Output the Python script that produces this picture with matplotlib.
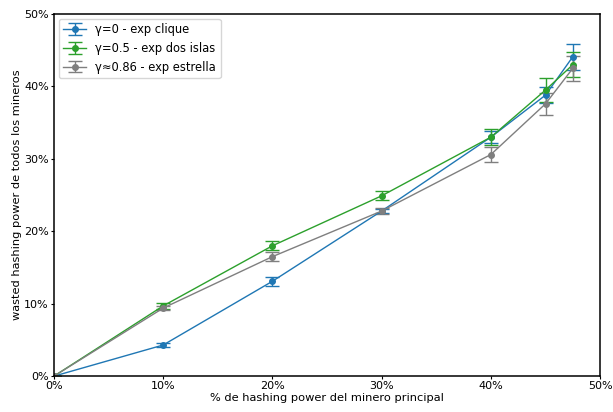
import matplotlib
matplotlib.use("Agg")
import matplotlib.pyplot as plt
from matplotlib.ticker import PercentFormatter

# fraccion de hashing power del minero principal
x = [0.0, 0.1, 0.2, 0.3, 0.4, 0.45, 0.475]

# gamma = 0 (clique)
clique = [0.0, 0.043, 0.131, 0.228, 0.330, 0.388, 0.441]
clique_err = [0.0, 0.003, 0.006, 0.003, 0.008, 0.011, 0.018]

# gamma = 0.5 (dos islas)
islas = [0.0, 0.097, 0.180, 0.249, 0.330, 0.395, 0.430]
islas_err = [0.0, 0.004, 0.006, 0.006, 0.011, 0.017, 0.017]

# gamma ~ 0.86 (estrella)
estrella = [0.0, 0.094, 0.165, 0.228, 0.306, 0.376, 0.425]
estrella_err = [0.0, 0.003, 0.006, 0.004, 0.010, 0.015, 0.017]

fig = plt.figure(figsize=(6.13, 4.12), dpi=100)
ax = fig.add_axes([0.088, 0.087, 0.891, 0.879])

ax.errorbar(x, clique, yerr=clique_err, color='tab:blue', marker='o', markersize=4,
            capsize=5, linewidth=1, label='γ=0 - exp clique')
ax.errorbar(x, islas, yerr=islas_err, color='tab:green', marker='o', markersize=4,
            capsize=5, linewidth=1, label='γ=0.5 - exp dos islas')
ax.errorbar(x, estrella, yerr=estrella_err, color='tab:gray', marker='o', markersize=4,
            capsize=5, linewidth=1, label='γ≈0.86 - exp estrella')

ax.set_xlim(0, 0.5)
ax.set_ylim(0, 0.5)
ax.xaxis.set_major_formatter(PercentFormatter(1.0, decimals=0))
ax.yaxis.set_major_formatter(PercentFormatter(1.0, decimals=0))
ax.tick_params(labelsize=8, length=2.5, pad=1.2)
for s in ax.spines.values():
    s.set_linewidth(1.1)

ax.set_xlabel('% de hashing power del minero principal', fontsize=8.2, labelpad=1.5)
ax.set_ylabel('wasted hashing power de todos los mineros', fontsize=8.2, labelpad=1.5)
ax.legend(loc='upper left', fontsize=8.3, borderaxespad=0.4)

fig.savefig('out.png', dpi=100)
